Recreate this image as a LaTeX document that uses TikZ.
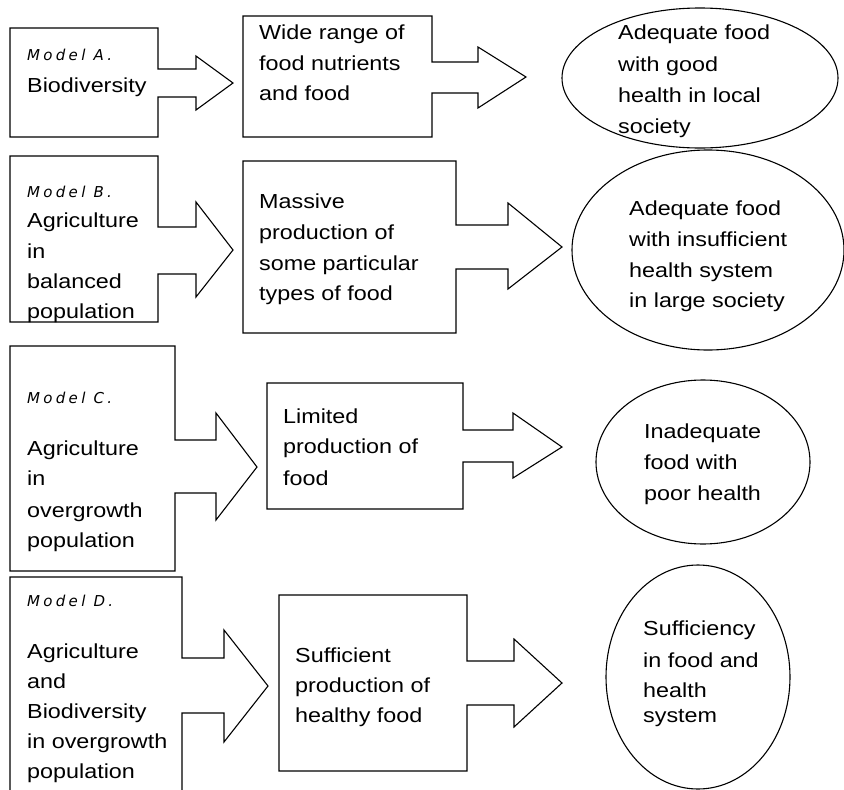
\documentclass[tikz,border=0pt]{standalone}
\usepackage{fontspec}
\setmainfont{Liberation Sans}[FakeStretch=1.15]
\newfontfamily\modelfont{DejaVu Sans}[LetterSpace=22]
\newcommand\placelines[3]{%
  \foreach \yy/\tt [count=\ii] in {#3} {\node[txt] (#1-\ii) at (#2,\yy) {\tt};}%
}
\begin{document}
\begin{tikzpicture}[x=1pt,y=-1pt,line join=miter]
\tikzset{
  txt/.style={anchor=base west,inner sep=0pt,font=\fontsize{20.3}{24}\selectfont},
  mlab/.style={anchor=base west,inner sep=0pt,font=\modelfont\itshape\fontsize{15}{17}\selectfont},
  outline/.style={draw=black,line width=1.1pt}
}
\useasboundingbox (0,0) rectangle (844,790);
\fill[white] (0,0) rectangle (844,790);

% Row A
\draw[outline] (10,28) -- (158,28) -- (158,69) -- (196,69) -- (196,56) -- (233,83) -- (196,110) -- (196,97) -- (158,97) -- (158,137) -- (10,137) -- cycle;
\node[mlab] (mA) at (27,60) {Model A.};
\placelines{la}{27}{92/Biodiversity}
\draw[outline] (243,16) -- (432,16) -- (432,62) -- (478,62) -- (478,47) -- (526,77) -- (478,108) -- (478,93) -- (432,93) -- (432,137) -- (243,137) -- cycle;
\placelines{ma}{259}{39/Wide range of,70/food nutrients,100/and food}
\draw[outline] (700,78) ellipse [x radius=138pt,y radius=70pt];
\placelines{ea}{618}{39/Adequate food,71/with good,102/health in local,133/society}

% Row B
\draw[outline] (10,156) -- (158,156) -- (158,227) -- (196,227) -- (196,202) -- (233,250) -- (196,297) -- (196,274) -- (158,274) -- (158,322) -- (10,322) -- cycle;
\node[mlab] (mB) at (27,197) {Model B.};
\placelines{lb}{27}{227/Agriculture,258/in,288/balanced,318/population}
\draw[outline] (243,161) -- (456,161) -- (456,225) -- (508,225) -- (508,203) -- (562,247) -- (508,289) -- (508,269) -- (456,269) -- (456,333) -- (243,333) -- cycle;
\placelines{mb}{259}{208/Massive,239/production of,270/some particular,300/types of food}
\draw[outline] (708,250) ellipse [x radius=136pt,y radius=100pt];
\placelines{eb}{629}{215/Adequate food,246/with insufficient,277/health system,307/in large society}

% Row C
\draw[outline] (10,346) -- (175,346) -- (175,440) -- (216,440) -- (216,413) -- (257,467) -- (216,520) -- (216,493) -- (175,493) -- (175,571) -- (10,571) -- cycle;
\node[mlab] (mC) at (27,403) {Model C.};
\placelines{lc}{27}{455/Agriculture,485/in,517/overgrowth,547/population}
\draw[outline] (267,383) -- (463,383) -- (463,430) -- (513,430) -- (513,413) -- (562,447) -- (513,478) -- (513,462) -- (463,462) -- (463,509) -- (267,509) -- cycle;
\placelines{mc}{283}{423/Limited,453/production of,485/food}
\draw[outline] (703,462) ellipse [x radius=107pt,y radius=82pt];
\placelines{ec}{644}{438/Inadequate,469/food with,500/poor health}

% Row D
\draw[outline] (10,792) -- (10,577) -- (182,577) -- (182,658) -- (224,658) -- (224,630) -- (268,686) -- (224,742) -- (224,713) -- (182,713) -- (182,792);
\node[mlab] (mD) at (27,606) {Model D.};
\placelines{ld}{27}{658/Agriculture,688/and,718/Biodiversity,748/in overgrowth,778/population}
\draw[outline] (279,595) -- (467,595) -- (467,661) -- (514,661) -- (514,639) -- (562,683) -- (514,727) -- (514,705) -- (467,705) -- (467,771) -- (279,771) -- cycle;
\placelines{md}{295}{662/Sufficient,692/production of,722/healthy food}
\draw[outline] (698,677) ellipse [x radius=92pt,y radius=112pt];
\placelines{ed}{643}{635/Sufficiency,667/in food and,697/health,722/system}
\end{tikzpicture}
\end{document}
